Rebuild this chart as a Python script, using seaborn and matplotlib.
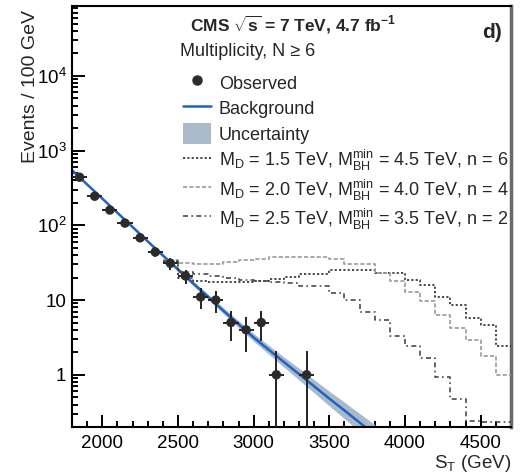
import numpy as np
import pandas as pd
import matplotlib
matplotlib.use("Agg")
import matplotlib.pyplot as plt
from matplotlib.lines import Line2D
from matplotlib.patches import Patch
from matplotlib.ticker import FixedLocator, NullFormatter, LogLocator
import seaborn as sns

# ---------------- data ----------------
obs_st = [1850, 1950, 2050, 2150, 2250, 2350, 2450, 2550, 2650, 2750, 2850, 2950, 3050, 3150, 3350]
obs_n = [440, 245, 160, 107, 68, 44, 31, 21, 11, 10, 5, 4, 5, 1, 1]
obs_err_lo = [21, 15.7, 12.6, 10.3, 8.2, 6.6, 5.6, 4.6, 3.3, 3.2, 2.2, 2.0, 2.2, 0.999, 0.999]
obs_err_hi = [21, 15.7, 12.6, 10.3, 8.2, 6.6, 5.6, 4.6, 3.3, 3.2, 2.2, 2.0, 2.2, 1.05, 1.05]
bin_halfwidth = 50

bkg_st = [1800, 1900, 2000, 2100, 2200, 2300, 2400, 2500, 2600, 2700, 2800,
          2900, 3000, 3100, 3200, 3300, 3400, 3500, 3600, 3700, 3800]
bkg = [546, 352, 228, 147, 95, 61, 39.5, 25.7, 16.7, 11.0, 7.2,
       4.76, 3.16, 2.16, 1.48, 1.02, 0.70, 0.48, 0.333, 0.229, 0.158]
bkg_unc_dex = [0.010, 0.011, 0.012, 0.014, 0.016, 0.019, 0.022, 0.026, 0.030, 0.035, 0.040,
               0.046, 0.052, 0.060, 0.068, 0.078, 0.088, 0.099, 0.110, 0.122, 0.135]

sig_edges = [2400, 2500, 2600, 2700, 2800, 2900, 3000, 3100, 3200, 3300, 3400, 3500,
             3600, 3700, 3800, 3900, 4000, 4100, 4200, 4300, 4400, 4500, 4600, 4700]
sig_md15 = [32, 19.5, 18, 17.5, 17.5, 17.5, 18, 19, 20.5, 22.5, 22.5, 25,
            25, 25, 23, 23, 18.7, 16, 11, 8.6, 5.7, 4.7, 2.4]
sig_md20 = [34, 31, 30, 30, 32, 34, 35, 38, 38, 38, 38, 35,
            30, 30, 23, 18, 13, 9.6, 6.3, 4.2, 2.9, 1.8, 1.0]
sig_md25 = [33, 23.5, 22, 21, 20, 18.5, 18, 17.5, 17, 15.5, 15.5, 12.5,
            10, 7, 5.4, 3.3, 2.4, 1.7, 0.93, 0.47, 0.24, 0.23, 0.23]

lab_md15 = r"M$_\mathrm{D}$ = 1.5 TeV, M$_\mathrm{BH}^\mathrm{min}$ = 4.5 TeV, n = 6"
lab_md20 = r"M$_\mathrm{D}$ = 2.0 TeV, M$_\mathrm{BH}^\mathrm{min}$ = 4.0 TeV, n = 4"
lab_md25 = r"M$_\mathrm{D}$ = 2.5 TeV, M$_\mathrm{BH}^\mathrm{min}$ = 3.5 TeV, n = 2"

yticks = [1, 10, 100, 1000, 10000]
ytick_labels = ["1", "10", r"10$^2$", r"10$^3$", r"10$^4$"]
xticks = [2000, 2500, 3000, 3500, 4000, 4500]

# ---------------- style ----------------
sns.set_style("ticks")
plt.rcParams["font.family"] = ["Liberation Sans", "DejaVu Sans"]
plt.rcParams["mathtext.fontset"] = "custom"
plt.rcParams["mathtext.rm"] = "Liberation Sans"
plt.rcParams["mathtext.it"] = "Liberation Sans:italic"
plt.rcParams["mathtext.bf"] = "Liberation Sans:bold"

FS_TICK = 13.5
FS_LEG = 13
fig = plt.figure(figsize=(5.24, 4.75), dpi=100)
ax = fig.add_axes([72 / 524, 1 - 427 / 475, 439 / 524, 421 / 475])

# uncertainty band
b = np.array(bkg)
w = np.array(bkg_unc_dex)
ax.fill_between(bkg_st, b / 10 ** w, b * 10 ** w, color="#a9bbcb", lw=0, zorder=1)

# background line
sns.lineplot(x=bkg_st, y=bkg, ax=ax, color="#1f63c4", lw=1.8, errorbar=None, zorder=2)

# signal histograms (step)
def step_df(edges, vals):
    return pd.DataFrame({"x": edges, "y": list(vals) + [vals[-1]]})

sig_styles = [
    (sig_md15, "#3c3c3c", (0, (1.2, 1.2)), 1.3),
    (sig_md20, "#9a9a9a", (0, (2.5, 1.3)), 1.2),
    (sig_md25, "#4a4a4a", (0, (3, 2, 1, 2)), 1.2),
]
for vals, col, ls, lw in sig_styles:
    d = step_df(sig_edges, vals)
    sns.lineplot(data=d, x="x", y="y", ax=ax, color=col, lw=lw, linestyle=ls,
                 drawstyle="steps-post", errorbar=None, zorder=3)

# observed data
ax.errorbar(obs_st, obs_n, yerr=[obs_err_lo, obs_err_hi], xerr=bin_halfwidth,
            fmt="none", ecolor="#222222", elinewidth=1.4, capsize=0, zorder=4)
sns.scatterplot(x=obs_st, y=obs_n, ax=ax, color="#2b2b2b", s=46, edgecolor="none", zorder=5)

# axes
ax.set_yscale("log")
ax.set_xlim(1800, 4700)
ax.set_ylim(0.2, 8.6e4)
ax.yaxis.set_major_locator(FixedLocator(yticks))
ax.set_yticklabels(ytick_labels)
ax.yaxis.set_minor_locator(LogLocator(base=10, subs=np.arange(2, 10), numticks=20))
ax.yaxis.set_minor_formatter(NullFormatter())
ax.set_xticks(xticks)
ax.set_xticks(np.arange(1900, 4700, 100), minor=True)
ax.tick_params(which="both", direction="in", width=1.4, colors="black",
               top=False, right=False, labelsize=FS_TICK)
ax.tick_params(which="major", length=9)
ax.tick_params(which="minor", length=4.5)
ax.tick_params(axis="x", which="major", pad=6)
ax.tick_params(axis="y", which="major", pad=4)
for s in ["left", "bottom", "top"]:
    ax.spines[s].set_linewidth(1.5)
    ax.spines[s].set_color("black")
ax.spines["right"].set_linewidth(2.5)
ax.spines["right"].set_color("#6a6a6a")

ax.set_ylabel("Events / 100 GeV", fontsize=14, loc="top")
ax.yaxis.set_label_coords(-0.075, 0.99)
ax.set_xlabel(r"S$_\mathrm{T}$ (GeV)", fontsize=13.5, loc="right")
ax.xaxis.set_label_coords(1.0, -0.062)

# texts
ax.text(0.269, 0.955, r"CMS $\sqrt{\mathbf{s}}$ = 7 TeV, 4.7 fb$^{\mathbf{-1}}$",
        transform=ax.transAxes, fontsize=12.5, fontweight="bold", va="center", ha="left")
ax.text(0.246, 0.891, "Multiplicity, N \u2265 6", transform=ax.transAxes,
        fontsize=13, va="center", ha="left")
ax.text(0.98, 0.938, "d)", transform=ax.transAxes, fontsize=15, fontweight="bold",
        va="center", ha="right")

# legend
handles = [
    Line2D([], [], marker="o", color="#2b2b2b", ls="none", markersize=6.5),
    Line2D([], [], color="#1f63c4", lw=1.8),
    Patch(facecolor="#a9bbcb", edgecolor="none"),
    Line2D([], [], color="#3c3c3c", lw=1.3, ls=(0, (1.2, 1.2))),
    Line2D([], [], color="#9a9a9a", lw=1.2, ls=(0, (2.5, 1.3))),
    Line2D([], [], color="#4a4a4a", lw=1.2, ls=(0, (3, 2, 1, 2))),
]
labels = ["Observed", "Background", "Uncertainty", lab_md15, lab_md20, lab_md25]
ax.legend(handles, labels, loc="upper left", bbox_to_anchor=(0.253, 0.843),
          frameon=False, fontsize=FS_LEG, handlelength=1.55, handleheight=1.45,
          handletextpad=0.42, labelspacing=0.22, borderpad=0, borderaxespad=0)

fig.savefig("out.png", dpi=100)
